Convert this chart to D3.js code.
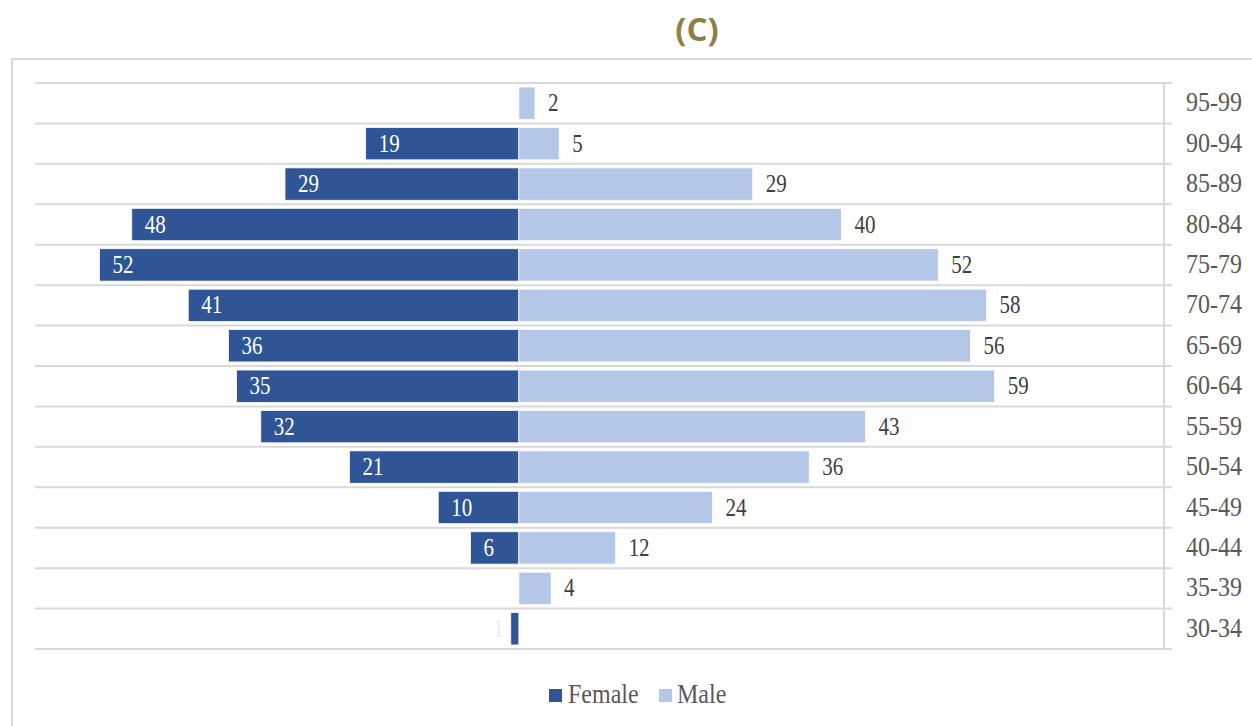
<!DOCTYPE html>
<html>
<head>
<meta charset="utf-8">
<script src="https://cdn.jsdelivr.net/npm/d3@7"></script>
<style>
  html, body { margin: 0; padding: 0; background: #ffffff; }
  svg { display: block; }
</style>
</head>
<body>
<div id="chart"></div>
<script>
// ---- Data ----
const categories = ["95-99","90-94","85-89","80-84","75-79","70-74","65-69","60-64","55-59","50-54","45-49","40-44","35-39","30-34"];
const female = [0, 19, 29, 48, 52, 41, 36, 35, 32, 21, 10, 6, 0, 1];
const male   = [2, 5, 29, 40, 52, 58, 56, 59, 43, 36, 24, 12, 4, 0];
const seriesNames = ["Female", "Male"];
const title = "(C)";

// ---- Layout ----
const W = 1252, H = 726;
const colors = { Female: "#2F5597", Male: "#B4C7E7" };
const gridColor = "#D9D9D9";
const textScaleY = 1.18;

const svg = d3.select("#chart").append("svg")
  .attr("width", W).attr("height", H);

svg.append("rect").attr("x", 0).attr("y", 0).attr("width", W).attr("height", H).attr("fill", "#fff");

// outer chart frame (cut at right and bottom)
svg.append("rect")
  .attr("x", 12).attr("y", 59)
  .attr("width", W + 20).attr("height", H)
  .attr("fill", "none").attr("stroke", gridColor).attr("stroke-width", 2);

// title
svg.append("text")
  .attr("x", 697).attr("y", 41)
  .attr("text-anchor", "middle")
  .attr("font-family", "'Open Sans', 'Noto Sans', sans-serif")
  .attr("font-weight", "bold")
  .attr("font-size", 33)
  .attr("fill", "#8C7F48")
  .text(title);

const x = d3.scaleLinear().domain([-60, 80]).range([35, 1164]);
const y = d3.scaleBand().domain(categories).range([83, 649]).paddingInner(0.2).paddingOuter(0.1);
const step = y.step();

// gridlines at band boundaries
const g = svg.append("g");
g.selectAll("line.grid")
  .data(d3.range(categories.length + 1))
  .join("line")
  .attr("class", "grid")
  .attr("x1", x(-60)).attr("x2", x(80) + 8)
  .attr("y1", i => 83 + i * step).attr("y2", i => 83 + i * step)
  .attr("stroke", gridColor).attr("stroke-width", 2);

// category axis line
g.append("line")
  .attr("x1", x(80)).attr("x2", x(80))
  .attr("y1", 83).attr("y2", 649)
  .attr("stroke", gridColor).attr("stroke-width", 2);

// category labels
function scaledText(sel, px, py) {
  return sel.attr("transform", `translate(${px},${py}) scale(1,${textScaleY})`);
}
categories.forEach((c) => {
  const cy = y(c) + y.bandwidth() / 2;
  scaledText(g.append("text"), 1186, cy + 8)
    .attr("font-family", "'Liberation Serif', 'Times New Roman', serif")
    .attr("font-size", 24)
    .attr("fill", "#595959")
    .text(c);
});

const rows = categories.map((c, i) => ({ c, f: female[i], m: male[i] }));

// female bars
const bars = svg.append("g");
bars.selectAll("rect.f")
  .data(rows.filter(d => d.f > 0))
  .join("rect")
  .attr("class", "f")
  .attr("x", d => x(-d.f)).attr("width", d => x(0) - x(-d.f))
  .attr("y", d => y(d.c)).attr("height", y.bandwidth())
  .attr("fill", colors.Female)
  .attr("stroke", "#ffffff").attr("stroke-width", 0.75);

bars.selectAll("rect.m")
  .data(rows.filter(d => d.m > 0))
  .join("rect")
  .attr("class", "m")
  .attr("x", x(0)).attr("width", d => x(d.m) - x(0))
  .attr("y", d => y(d.c)).attr("height", y.bandwidth())
  .attr("fill", colors.Male)
  .attr("stroke", "#ffffff").attr("stroke-width", 0.75);

// female labels
rows.filter(d => d.f > 0).forEach(d => {
  const cy = y(d.c) + y.bandwidth() / 2;
  const left = x(-d.f);
  const narrow = (x(0) - left) < 20;
  scaledText(svg.append("text"), narrow ? left - 7 : left + 13, cy + 8)
    .attr("font-family", "'Liberation Serif', 'Times New Roman', serif")
    .attr("font-size", 21)
    .attr("text-anchor", narrow ? "end" : "start")
    .attr("fill", narrow ? "#EEEEEE" : "#FFFFFF")
    .text(d.f);
});

// male labels
rows.filter(d => d.m > 0).forEach(d => {
  const cy = y(d.c) + y.bandwidth() / 2;
  scaledText(svg.append("text"), x(d.m) + 13, cy + 8)
    .attr("font-family", "'Liberation Serif', 'Times New Roman', serif")
    .attr("font-size", 21)
    .attr("fill", "#404040")
    .text(d.m);
});

// legend
const legend = svg.append("g");
const legendItems = [
  { name: seriesNames[0], sx: 549, tx: 568 },
  { name: seriesNames[1], sx: 659, tx: 677 }
];
legendItems.forEach(it => {
  legend.append("rect")
    .attr("x", it.sx).attr("y", 689).attr("width", 13).attr("height", 13)
    .attr("fill", colors[it.name]);
  scaledText(legend.append("text"), it.tx, 703)
    .attr("font-family", "'Liberation Serif', 'Times New Roman', serif")
    .attr("font-size", 24)
    .attr("fill", "#595959")
    .text(it.name);
});
</script>
</body>
</html>
